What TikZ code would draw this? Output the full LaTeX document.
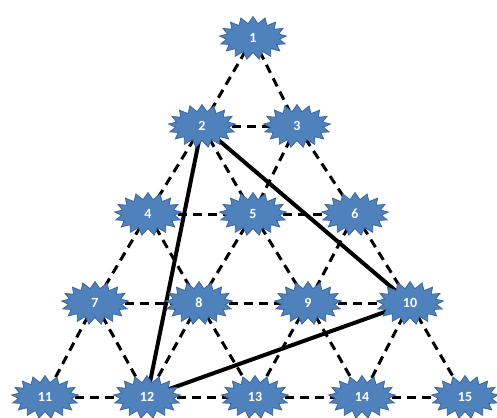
\documentclass[tikz,border=0pt]{standalone}
\usepackage{fontspec}
\setmainfont{Carlito}
\usetikzlibrary{shapes.symbols,backgrounds}
\definecolor{starfill}{HTML}{4F81BD}
\definecolor{starline}{HTML}{3A679E}
\tikzset{
  star/.style={starburst, random starburst=0, starburst points=17, starburst point height=7pt,
    fill=starfill, draw=starline, line width=0.8pt, minimum width=67pt, minimum height=43pt,
    inner sep=0pt, text=white, font=\bfseries\fontsize{14}{14}\selectfont},
  grid/.style={draw=black, line width=3pt, dash pattern=on 9pt off 6pt},
  heavy/.style={draw=black, line width=4pt}
}
\begin{document}
\begin{tikzpicture}[x=1pt,y=-1pt]
\useasboundingbox (0,0) rectangle (497,417);
\node[star] (n1) at (253,38) {1};
\node[star] (n2) at (202,126) {2};
\node[star] (n3) at (297,126) {3};
\node[star] (n4) at (148,214) {4};
\node[star] (n5) at (253,214) {5};
\node[star] (n6) at (355,214) {6};
\node[star] (n7) at (95,303) {7};
\node[star] (n8) at (199,303) {8};
\node[star] (n9) at (308,303) {9};
\node[star] (n10) at (410,303) {10};
\node[star] (n11) at (45,397) {11};
\node[star] (n12) at (147,397) {12};
\node[star] (n13) at (255,397) {13};
\node[star] (n14) at (362,397) {14};
\node[star] (n15) at (465,397) {15};
\begin{scope}[on background layer]
\foreach \a/\b in {n1/n2,n1/n3,n2/n3,n2/n4,n2/n5,n3/n5,n3/n6,n4/n5,n5/n6,
  n4/n7,n4/n8,n5/n8,n5/n9,n6/n9,n6/n10,n7/n8,n8/n9,n9/n10,
  n7/n11,n7/n12,n8/n12,n8/n13,n9/n13,n9/n14,n10/n14,n10/n15,
  n11/n12,n12/n13,n13/n14,n14/n15}
  \draw[grid] (\a.center) -- (\b.center);
\draw[heavy] (n2.center) -- (n12.center);
\draw[heavy] (n2.center) -- (n10.center);
\draw[heavy] (n12.center) -- (n10.center);
\end{scope}
\end{tikzpicture}
\end{document}
